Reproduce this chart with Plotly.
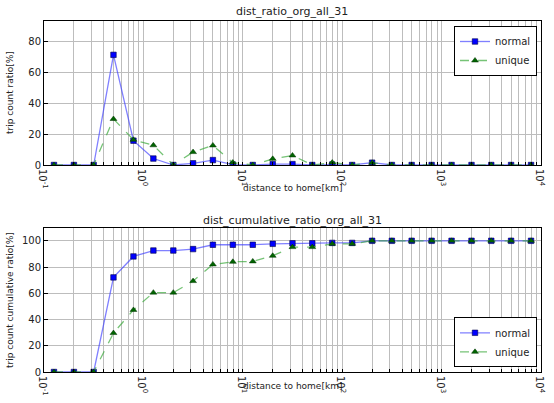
import plotly.graph_objects as go

# distances (km), log-spaced bins
distance_km = [0.126, 0.2, 0.316, 0.5, 0.794, 1.26, 2.0, 3.16, 5.0, 7.94,
               12.6, 20.0, 31.6, 50.0, 79.4, 126.0, 200.0, 316.0, 500.0, 794.0,
               1260.0, 2000.0, 3160.0, 5000.0, 7940.0]

normal_ratio = [0, 0, 0, 71.6, 15.8, 4.2, 0, 1.1, 3.2, 0.3,
                0, 0.6, 0.6, 0, 0.3, 0, 1.5, 0, 0, 0,
                0, 0, 0, 0, 0]
unique_ratio = [0, 0, 0, 29.9, 16.4, 12.8, 0, 8.4, 12.7, 1.6,
                0, 4.0, 6.2, 0, 1.6, 0, 1.4, 0, 0, 0,
                0, 0, 0, 0, 0]

normal_cum = [0, 0, 0, 72.1, 88.1, 92.6, 92.6, 93.7, 97.0, 97.0,
              97.0, 97.7, 98.1, 98.1, 98.4, 98.4, 100, 100, 100, 100,
              100, 100, 100, 100, 100]
unique_cum = [0, 0, 0, 29.7, 47.3, 60.5, 60.5, 69.3, 82.0, 84.0,
              84.3, 88.6, 95.2, 95.2, 97.7, 97.7, 100, 100, 100, 100,
              100, 100, 100, 100, 100]

top_yticks = [0, 20, 40, 60, 80]
bottom_yticks = [0, 20, 40, 60, 80, 100]
decade_exps = [-1, 0, 1, 2, 3, 4]

FONT = "DejaVu Sans"
GRID = "#bdbdbd"
TXT = "#222"

# log-axis gridline positions (major + minor); labels only at decades
xtickvals, xticktext = [], []
for e in decade_exps:
    for m in range(1, 10):
        if e == 4 and m > 1:
            break
        xtickvals.append(m * 10.0 ** e)
        xticktext.append("10<sup>%d</sup>" % e if m == 1 else " ")

NORMAL_LINE = dict(color="rgba(60,60,255,0.65)", width=1.3)
NORMAL_MARK = dict(symbol="square", size=5.5, color="#0000ff",
                   line=dict(color="#000044", width=0.6))
UNIQUE_LINE = dict(color="rgba(60,170,60,0.7)", width=1.3, dash="dash")
UNIQUE_MARK = dict(symbol="triangle-up", size=6, color="#006400",
                   line=dict(color="#003300", width=0.5))

fig = go.Figure()

def add_series(y_normal, y_unique, xa, ya, leg):
    fig.add_trace(go.Scatter(
        x=distance_km, y=y_normal, mode="lines+markers", name="normal",
        xaxis=xa, yaxis=ya, legend=leg, line=NORMAL_LINE, marker=NORMAL_MARK))
    fig.add_trace(go.Scatter(
        x=distance_km, y=y_unique, mode="lines+markers", name="unique",
        xaxis=xa, yaxis=ya, legend=leg, line=UNIQUE_LINE, marker=UNIQUE_MARK))

add_series(normal_ratio, unique_ratio, "x", "y", "legend")
add_series(normal_cum, unique_cum, "x2", "y2", "legend2")

W, H = 554, 403
L, R = 44, 13
PW = W - L - R


def py(px):
    return 1 - px / H


def pxx(px):
    return (px - L) / PW


xcommon = dict(type="log", range=[-1, 4], tickvals=xtickvals, ticktext=xticktext,
               showgrid=True, gridcolor=GRID, gridwidth=1, showline=True,
               linecolor="black", linewidth=1, mirror=True, zeroline=False,
               ticks="inside", ticklen=3, tickcolor="black", automargin=False,
               ticklabelstandoff=-4,
               tickfont=dict(family=FONT, size=10, color=TXT))
ycommon = dict(showgrid=True, gridcolor=GRID, gridwidth=1, showline=True,
               linecolor="black", linewidth=1, mirror=True, zeroline=False,
               ticks="inside", ticklen=4, tickcolor="black", automargin=False,
               tickfont=dict(family=FONT, size=10, color=TXT))

legcommon = dict(bgcolor="white", bordercolor="black", borderwidth=1,
                 font=dict(family=FONT, size=10, color=TXT),
                 itemwidth=30, tracegroupgap=0, xanchor="right")


def label(text, x, y, size, angle=0):
    return dict(text=text, x=x, y=y, xref="paper", yref="paper", showarrow=False,
                xanchor="center", yanchor="middle", textangle=angle,
                font=dict(family=FONT, size=size, color=TXT))


fig.update_layout(
    width=W, height=H,
    margin=dict(l=L, r=R, t=0, b=0, autoexpand=False),
    paper_bgcolor="white", plot_bgcolor="white",
    font=dict(family=FONT, size=10, color=TXT),
    xaxis=dict(domain=[0, 1], anchor="y", **xcommon),
    yaxis=dict(domain=[py(165), py(21)], anchor="x", range=[0, 93.6],
               tickvals=top_yticks, **ycommon),
    xaxis2=dict(domain=[0, 1], anchor="y2", **xcommon),
    yaxis2=dict(domain=[py(372), py(227.7)], anchor="x2", range=[0, 110],
                tickvals=bottom_yticks, **ycommon),
    legend=dict(x=pxx(537), y=py(26), yanchor="top", **legcommon),
    legend2=dict(x=pxx(537), y=py(367.3), yanchor="bottom", **legcommon),
    annotations=[
        label("dist_ratio_org_all_31", pxx(292), py(12), 11),
        label("dist_cumulative_ratio_org_all_31", pxx(292), py(220), 11),
        label("distance to home[km]", pxx(292), py(188), 9),
        label("distance to home[km]", pxx(292), py(386), 9),
        label("trip count ratio[%]", pxx(10), py(93), 9, -90),
        label("trip count cumulative ratio[%]", pxx(10), py(300), 9, -90),
    ],
)

fig.write_html("out.html",
               config={"displayModeBar": False},
               post_script="document.body.style.margin='0';"
                           "document.body.style.padding='0';")
